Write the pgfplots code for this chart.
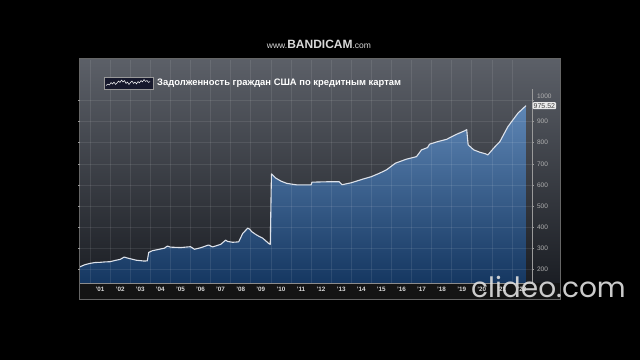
\documentclass[border=0pt]{standalone}
\usepackage{pgfplots}
\pgfplotsset{compat=1.18}
\usepackage{pgfplotstable}
\usepackage{fontspec}
\setmainfont{Liberation Sans}
\newfontfamily\wmfont{Poppins}
\definecolor{panelTop}{HTML}{5C6068}
\definecolor{panelMid}{HTML}{33373E}
\definecolor{panelBot}{HTML}{1B1E24}
\definecolor{fillTop}{HTML}{5E86B5}
\definecolor{fillBot}{HTML}{153761}
\definecolor{lineC}{HTML}{DDE2EA}
\definecolor{axisC}{HTML}{9A9A9A}
\definecolor{tickC}{HTML}{B0B0B0}
\pgfplotstableread{
x y
2000.50 212
2000.75 222
2001.00 228
2001.25 232
2001.50 233
2001.75 235
2002.00 236
2002.25 242
2002.50 247
2002.70 258
2002.80 255
2003.00 250
2003.30 243
2003.70 239
2003.85 240
2003.92 280
2004.10 288
2004.40 294
2004.70 300
2004.85 310
2005.00 305
2005.50 303
2006.00 307
2006.20 295
2006.50 302
2006.90 315
2007.10 306
2007.50 318
2007.75 338
2007.85 332
2008.10 328
2008.40 330
2008.60 370
2008.85 395
2008.95 390
2009.05 378
2009.30 362
2009.60 347
2009.90 322
2009.97 318
2010.03 652
2010.25 632
2010.50 618
2010.80 607
2011.30 600
2012.00 600
2012.05 613
2012.90 615
2013.40 615
2013.55 601
2014.00 610
2014.60 628
2015.00 639
2015.40 655
2015.75 671
2016.20 703
2016.75 722
2017.25 734
2017.50 766
2017.80 777
2017.90 793
2018.30 805
2018.75 816
2019.20 838
2019.66 857
2019.75 862
2019.82 790
2020.10 766
2020.40 755
2020.70 747
2020.80 742
2021.10 775
2021.40 805
2021.80 876
2022.30 940
2022.70 975.52
}\debt
\pgfplotstableread{
x y
2000.50 135
2000.50 212
2000.75 222
2001.00 228
2001.25 232
2001.50 233
2001.75 235
2002.00 236
2002.25 242
2002.50 247
2002.70 258
2002.80 255
2003.00 250
2003.30 243
2003.70 239
2003.85 240
2003.92 280
2004.10 288
2004.40 294
2004.70 300
2004.85 310
2005.00 305
2005.50 303
2006.00 307
2006.20 295
2006.50 302
2006.90 315
2007.10 306
2007.50 318
2007.75 338
2007.85 332
2008.10 328
2008.40 330
2008.60 370
2008.85 395
2008.95 390
2009.05 378
2009.30 362
2009.60 347
2009.90 322
2009.97 318
2010.03 652
2010.25 632
2010.50 618
2010.80 607
2011.30 600
2012.00 600
2012.05 613
2012.90 615
2013.40 615
2013.55 601
2014.00 610
2014.60 628
2015.00 639
2015.40 655
2015.75 671
2016.20 703
2016.75 722
2017.25 734
2017.50 766
2017.80 777
2017.90 793
2018.30 805
2018.75 816
2019.20 838
2019.66 857
2019.75 862
2019.82 790
2020.10 766
2020.40 755
2020.70 747
2020.80 742
2021.10 775
2021.40 805
2021.80 876
2022.30 940
2022.70 975.52
2022.70 135
}\debtfill
\begin{document}
\begin{tikzpicture}[x=1pt,y=1pt]
\fill[black] (0,0) rectangle (640,360);
\useasboundingbox (0,0) rectangle (640,360);
% watermark top
\node[text=white!85!black, anchor=center, inner sep=0pt] at (319,316)
  {\fontsize{8.5pt}{9pt}\selectfont www.\fontsize{12pt}{13pt}\selectfont\bfseries BANDICAM\mdseries\fontsize{8.5pt}{9pt}\selectfont.com};
% panel
\shade[top color=panelTop, middle color=panelMid, bottom color=panelBot] (79,302) rectangle (560,77);
\fill[black!92!white] (79,61) rectangle (560,77);
\draw[black!60!white, line width=0.5pt] (79,61) rectangle (560,302);
\begin{axis}[
  at={(80pt,77pt)}, anchor=south west,
  scale only axis, width=452pt, height=223pt,
  xmin=2000.5, xmax=2023, ymin=135, ymax=1192,
  axis line style={draw=none},
  axis on top,
  xtick={2001.5,2002.5,...,2022.5},
  xticklabels={'01,'02,'03,'04,'05,'06,'07,'08,'09,'10,'11,'12,'13,'14,'15,'16,'17,'18,'19,'20,'21,'22},
  minor xtick={2001,2002,...,2022},
  xminorgrids=true,
  major x tick style={draw=none},
  minor x tick style={draw=none},
  xticklabel style={font=\fontsize{6.3pt}{7pt}\selectfont\bfseries, text=white!85!black, yshift=-1pt},
  ytick={200,300,...,900},
  extra y ticks={1000},
  extra y tick style={yticklabel style={yshift=4.5pt}, grid=major},
  ymajorgrids=true,
  yticklabel pos=right,
  ytick align=outside,
  ytick style={draw=axisC, line width=0.5pt},
  major tick length=2pt,
  yticklabel style={font=\fontsize{6.5pt}{7pt}\selectfont, text=tickC, xshift=-0.5pt},
  grid style={white, opacity=0.09, line width=0.5pt},
  minor grid style={white, opacity=0.09, line width=0.5pt},
  /pgf/number format/assume math mode=true,
  /pgf/number format/1000 sep={},
]
\addplot[draw=none, top color=fillTop, bottom color=fillBot] table[x=x,y=y] {\debtfill} -- cycle;
\addplot[lineC, line width=1.1pt, line join=round] table[x=x,y=y] {\debt};
\coordinate (endpt) at (axis cs:2023,975.52);
\end{axis}
% axes lines
\draw[axisC, line width=0.6pt] (532,77) -- (532,271);
\draw[black!45!white, line width=0.6pt] (80,77) -- (532,77);
% end value box
\node[anchor=west, fill=white!92!black, text=black!75, rounded corners=1pt, inner sep=1pt,
  font=\fontsize{7pt}{8pt}\selectfont] at ([xshift=0.5pt]endpt) {975.52};
% title
\draw[fill=black!70!blue!20!panelBot, draw=black!40!white, line width=0.4pt] (104,271) rectangle (153,283);
\draw[white, line width=0.5pt, line join=round] (106,274.5) -- (108,276) -- (109.5,275) -- (111,277.5) -- (112.5,276) -- (114,278) -- (115.5,275.5) -- (117,277) -- (118.5,279) -- (120,277.5) -- (121.5,280) -- (123,278) -- (124.5,279.5) -- (126,276.5) -- (127.5,278) -- (129,275.5) -- (130.5,277.5) -- (132,279) -- (133.5,276.5) -- (135,278) -- (136.5,276) -- (138,278.5) -- (139.5,277) -- (141,279.5) -- (142.5,278) -- (144,280.5) -- (145.5,278.5) -- (147,279.5) -- (148.5,277.5) -- (150,278.5);
\node[anchor=west, text=white, font=\fontsize{9.4pt}{11pt}\selectfont\bfseries, inner sep=0pt] at (157,277.3)
  {Задолженность граждан США по кредитным картам};
% watermark bottom
\node[anchor=base west, inner sep=0pt, text=white!88!black, opacity=0.9,
  font=\wmfont\fontsize{28pt}{30pt}\selectfont] at (471,63) {clideo.com};
\end{tikzpicture}
\end{document}
